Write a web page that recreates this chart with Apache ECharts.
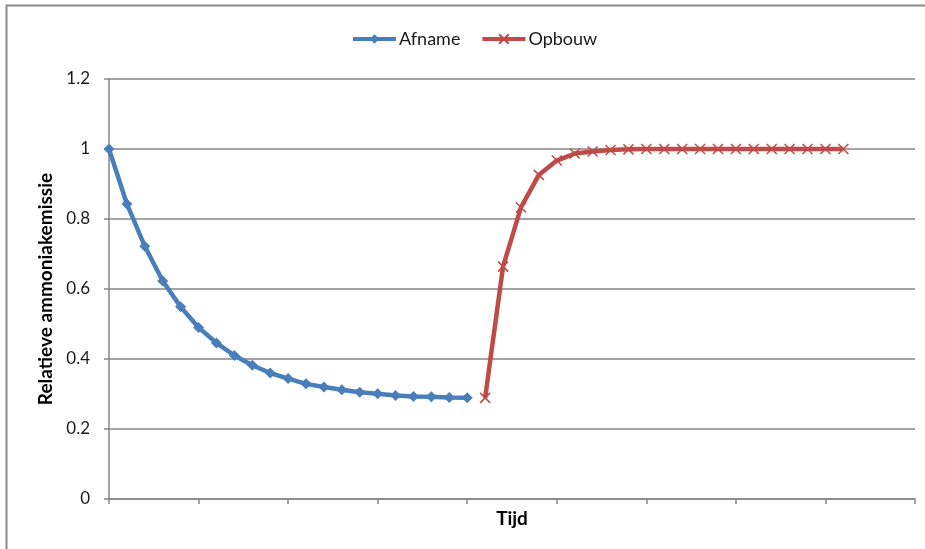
<!DOCTYPE html>
<html>
<head>
<meta charset="utf-8">
<script src="https://cdn.jsdelivr.net/npm/echarts@6/dist/echarts.min.js"></script>
<style>
  html, body { margin: 0; padding: 0; background: #fff; }
  #chart { width: 925px; height: 549px; }
</style>
</head>
<body>
<div id="chart"></div>
<script>
// Time steps (unlabelled categories along the x axis)
const timeSteps = Array.from({ length: 46 }, (_, i) => String(i));

// Relative ammonia emission while decreasing (steps 0..20)
const afname = [
  1.0, 0.843, 0.722, 0.623, 0.549, 0.490, 0.446, 0.410, 0.382, 0.360,
  0.344, 0.329, 0.320, 0.312, 0.305, 0.301, 0.296, 0.293, 0.292, 0.290, 0.289
];

// Relative ammonia emission while building up (steps 21..41)
const opbouw = [
  0.289, 0.664, 0.833, 0.926, 0.967, 0.987, 0.993, 0.997, 0.999, 1.0,
  1.0, 1.0, 1.0, 1.0, 1.0, 1.0, 1.0, 1.0, 1.0, 1.0, 1.0
];
const opbouwStart = 21;

const yTicks = ['0', '0.2', '0.4', '0.6', '0.8', '1', '1.2'];

const afnameSeries = timeSteps.map((_, i) => (i < afname.length ? afname[i] : null));
const opbouwSeries = timeSteps.map((_, i) => {
  const k = i - opbouwStart;
  return k >= 0 && k < opbouw.length ? opbouw[k] : null;
});

const FONT = 'Lato, "Open Sans", sans-serif';
const GRID = '#868686';
const CROSS = 'path://M0,0L10,10M10,0L0,10';

const chart = echarts.init(document.getElementById('chart'), null, { renderer: 'canvas' });
chart.setOption({
  animation: false,
  backgroundColor: '#ffffff',
  textStyle: { fontFamily: FONT },
  graphic: [{
    type: 'rect',
    shape: { x: 6.5, y: 5.5, width: 2000, height: 2000 },
    style: { fill: 'none', stroke: '#898989', lineWidth: 2 },
    silent: true
  }],
  legend: {
    top: 25,
    left: 346,
    itemGap: 20,
    itemWidth: 43,
    itemHeight: 12,
    lineStyle: { width: 4 },
    textStyle: { fontFamily: FONT, fontSize: 18, color: '#1a1a1a', padding: [0, 0, 0, -2] },
    data: ['Afname', 'Opbouw']
  },
  grid: { left: 109, right: 10, top: 79, bottom: 50, containLabel: false },
  xAxis: {
    type: 'category',
    data: timeSteps,
    boundaryGap: false,
    name: 'Tijd',
    nameLocation: 'middle',
    nameGap: 10,
    nameTextStyle: { fontFamily: FONT, fontSize: 19, fontWeight: 'bold', color: '#000' },
    axisLine: { lineStyle: { color: GRID, width: 1.5 } },
    axisTick: { interval: 4, length: 5, lineStyle: { color: GRID, width: 1.5 } },
    axisLabel: { show: false },
    splitLine: { show: false }
  },
  yAxis: {
    type: 'value',
    min: 0,
    max: 1.2,
    interval: 0.2,
    name: 'Relatieve ammoniakemissie',
    nameLocation: 'middle',
    nameRotate: 90,
    nameGap: 54,
    nameTextStyle: { fontFamily: FONT, fontSize: 19, fontWeight: 'bold', color: '#000' },
    axisLine: { show: true, lineStyle: { color: GRID, width: 1.5 } },
    axisTick: { show: true, inside: false, length: 5, lineStyle: { color: GRID, width: 1.5 } },
    axisLabel: {
      margin: 19,
      fontFamily: FONT,
      fontSize: 17,
      color: '#1a1a1a',
      formatter: (v) => yTicks[Math.round(v / 0.2)]
    },
    splitLine: { show: true, lineStyle: { color: GRID, width: 1.5 } }
  },
  series: [
    {
      name: 'Afname',
      type: 'line',
      data: afnameSeries,
      connectNulls: false,
      symbol: 'diamond',
      symbolSize: 11,
      lineStyle: { color: '#4a7ebb', width: 4.5 },
      itemStyle: { color: '#4a7ebb' },
      z: 3
    },
    {
      name: 'Opbouw',
      type: 'line',
      data: opbouwSeries,
      connectNulls: false,
      symbol: CROSS,
      symbolSize: 10,
      lineStyle: { color: '#be4b48', width: 4.5 },
      itemStyle: { color: '#be4b48', borderColor: '#be4b48', borderWidth: 1.5 },
      z: 3
    }
  ]
});
</script>
</body>
</html>
